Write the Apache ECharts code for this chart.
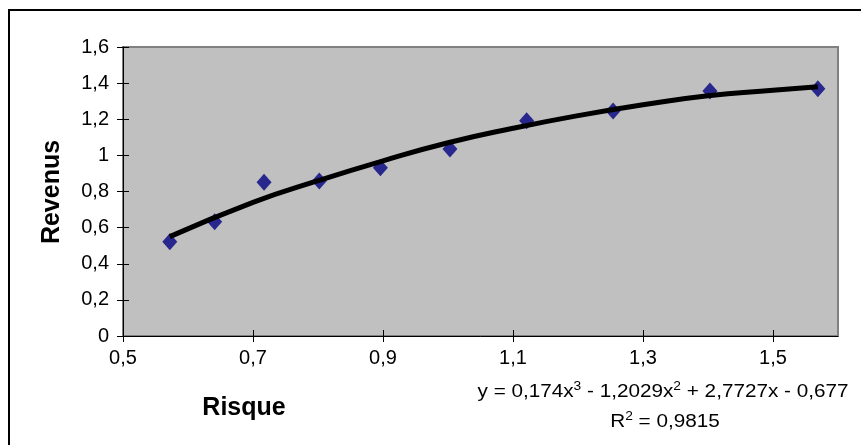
<!DOCTYPE html>
<html>
<head>
<meta charset="utf-8">
<script src="https://cdn.jsdelivr.net/npm/echarts@6/dist/echarts.min.js"></script>
<style>
  html, body { margin: 0; padding: 0; background: #fff; }
  #chart { width: 861px; height: 445px; }
</style>
</head>
<body>
<div id="chart"></div>
<script>
// points
const risque = [0.572, 0.641, 0.717, 0.802, 0.896, 1.003, 1.121, 1.254, 1.403, 1.569]
const revenus = [0.522, 0.633, 0.851, 0.858, 0.932, 1.035, 1.192, 1.246, 1.357, 1.369]
// polynomial trend line, sampled from the drawn curve
const trendX = [0.572, 0.7, 0.8, 0.9, 1.0, 1.1, 1.2, 1.3, 1.4, 1.5, 1.569]
const trendY = [0.55, 0.74, 0.86, 0.97, 1.07, 1.15, 1.22, 1.28, 1.33, 1.36, 1.38]
const xTicks = [0.5, 0.7, 0.9, 1.1, 1.3, 1.5]
const equation = 'y = 0,174x{sup|3} - 1,2029x{sup|2} + 2,7727x - 0,677'
const r2 = 'R{sup|2} = 0,9815'

const FONT = 'Liberation Sans'
const fmt = (v) => String(+v.toFixed(2)).replace('.', ',')

const chart = echarts.init(document.getElementById('chart'))

const baseX = { type: 'value', min: 0.5, max: 1.6, splitLine: { show: false } }
const baseY = { type: 'value', min: 0, max: 1.6, interval: 0.2, splitLine: { show: false } }
const tickLabel = { formatter: fmt, color: '#000', fontSize: 20, fontFamily: FONT }
const supStyle = { fontSize: 12, fontFamily: FONT, fill: '#000', padding: [0, 0, 10, 0] }

chart.setOption({
  animation: false,
  grid: {
    left: 123, top: 47, right: 23, bottom: 109,
    show: true, backgroundColor: '#c0c0c0', borderColor: '#808080', borderWidth: 2
  },
  xAxis: [
    {
      ...baseX,
      axisLine: { lineStyle: { color: '#000', width: 1 } },
      axisTick: { length: 6, customValues: xTicks, lineStyle: { color: '#000' } },
      axisLabel: { ...tickLabel, customValues: xTicks, margin: 12 }
    },
    {
      ...baseX, position: 'bottom',
      axisLine: { show: false },
      axisTick: { inside: true, length: 6, customValues: xTicks, lineStyle: { color: '#000' } },
      axisLabel: { show: false }
    }
  ],
  yAxis: [
    {
      ...baseY,
      axisLine: { show: true, lineStyle: { color: '#000', width: 1 } },
      axisTick: { show: true, length: 6, lineStyle: { color: '#000' } },
      axisLabel: { ...tickLabel, margin: 14 }
    },
    {
      ...baseY, position: 'left',
      axisLine: { show: false },
      axisTick: { show: true, inside: true, length: 6, lineStyle: { color: '#000' } },
      axisLabel: { show: false }
    }
  ],
  series: [
    {
      name: 'Revenus', type: 'scatter', symbol: 'diamond', symbolSize: [15, 17], z: 2,
      itemStyle: { color: '#000080' },
      data: risque.map((x, i) => [x, revenus[i]])
    },
    {
      name: 'Tendance', type: 'line', smooth: true, showSymbol: false, z: 3,
      lineStyle: { color: '#000', width: 5 },
      data: trendX.map((x, i) => [x, trendY[i]])
    }
  ],
  graphic: [
    {
      type: 'rect', silent: true,
      shape: { x: 9, y: 10, width: 900, height: 500 },
      style: { fill: 'none', stroke: '#000', lineWidth: 2 }
    },
    {
      type: 'text', x: 52, y: 192, rotation: Math.PI / 2,
      style: { text: 'Revenus', font: 'bold 25px ' + FONT, fill: '#000', align: 'center', verticalAlign: 'middle' }
    },
    {
      type: 'text', x: 244, y: 408,
      style: { text: 'Risque', font: 'bold 25px ' + FONT, fill: '#000', align: 'center', verticalAlign: 'middle' }
    },
    {
      type: 'text', x: 663, y: 392, scaleX: 1.15,
      style: {
        text: equation, font: '18px ' + FONT, fill: '#000', align: 'center', verticalAlign: 'middle',
        rich: { sup: supStyle }
      }
    },
    {
      type: 'text', x: 665, y: 422, scaleX: 1.15,
      style: {
        text: r2, font: '18px ' + FONT, fill: '#000', align: 'center', verticalAlign: 'middle',
        rich: { sup: supStyle }
      }
    }
  ]
})
</script>
</body>
</html>
